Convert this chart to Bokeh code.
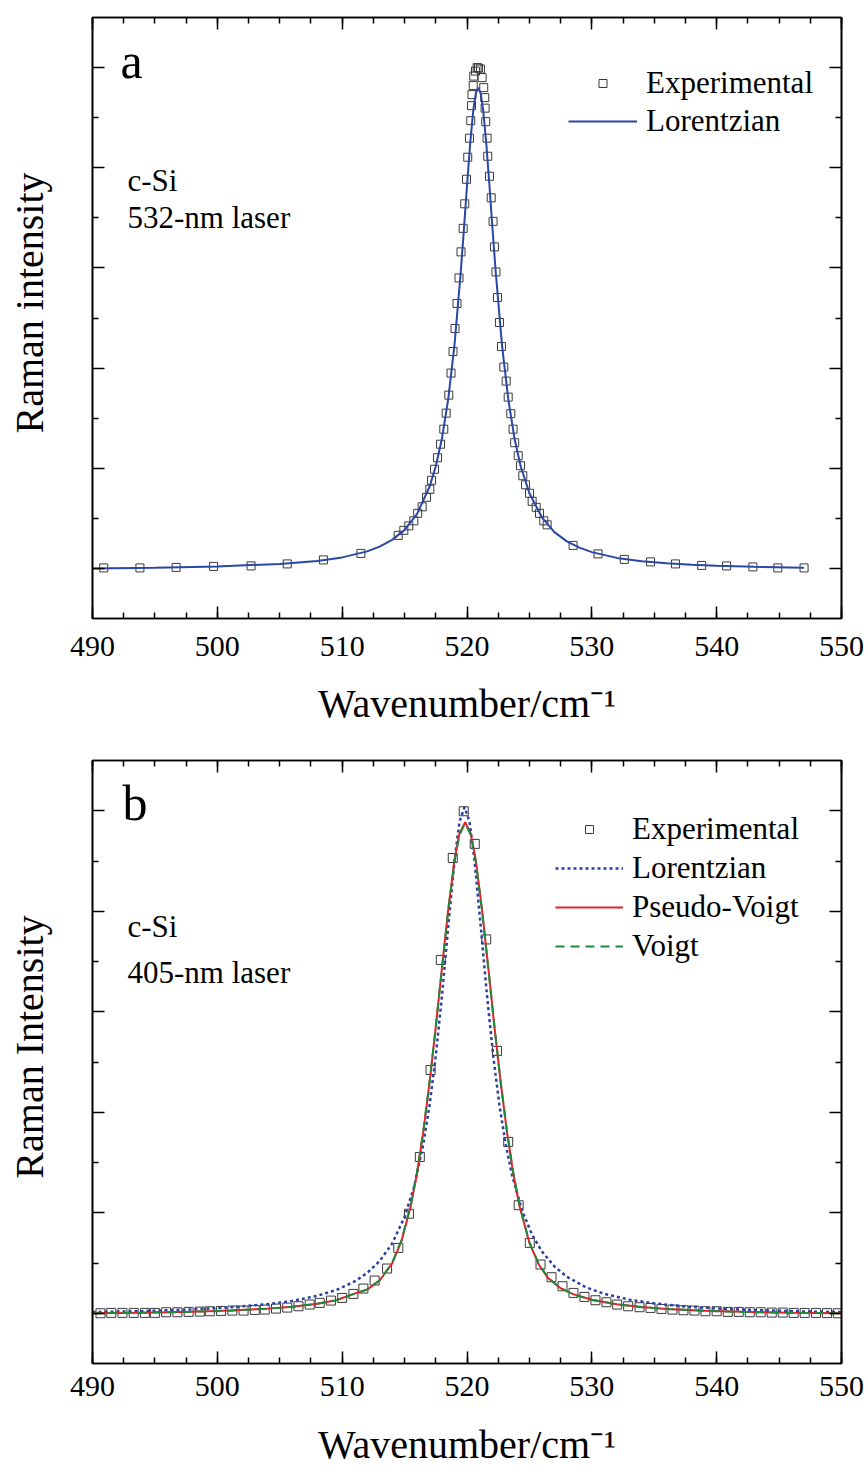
from bokeh.plotting import figure
from bokeh.models import LinearAxis, FixedTicker, Legend, LegendItem, Label, Range1d
from bokeh.layouts import column
from bokeh.embed import file_html
from bokeh.resources import INLINE

FONT = "Liberation Serif"

# ---------------- panel a (532-nm laser) ----------------
a_exp_x = [490.9, 493.8, 496.7, 499.7, 502.7, 505.6, 508.5, 511.5, 514.49, 514.94,
           515.34, 515.74, 516.05, 516.41, 516.76, 517.02, 517.16, 517.40, 517.64, 517.88,
           518.14, 518.33, 518.54, 518.72, 518.88, 519.04, 519.20, 519.36, 519.52, 519.69,
           519.82, 519.96, 520.06, 520.20, 520.30, 520.36, 520.40, 520.50, 520.54, 520.68,
           520.81, 520.92, 521.08, 521.21, 521.34, 521.42, 521.45, 521.50, 521.61, 521.66,
           521.80, 521.94, 522.09, 522.20, 522.32, 522.44, 522.60, 522.76, 522.95, 523.14,
           523.30, 523.51, 523.69, 523.82, 524.10, 524.29, 524.47, 524.69, 525.01, 525.22,
           525.54, 525.81, 526.15, 526.42, 528.5, 530.5, 532.6, 534.7, 536.7, 538.8,
           540.8, 542.9, 544.9, 547.0]
a_exp_y = [0.001, 0.001, 0.002, 0.004, 0.005, 0.009, 0.017, 0.030, 0.066, 0.076,
           0.085, 0.095, 0.110, 0.123, 0.142, 0.158, 0.176, 0.198, 0.221, 0.248,
           0.278, 0.310, 0.346, 0.390, 0.433, 0.479, 0.529, 0.580, 0.632, 0.679,
           0.728, 0.777, 0.821, 0.859, 0.894, 0.924, 0.946, 0.964, 0.983, 0.993,
           1.000, 0.999, 0.997, 0.980, 0.960, 0.940, 0.919, 0.892, 0.859, 0.823,
           0.783, 0.740, 0.693, 0.642, 0.592, 0.541, 0.491, 0.443, 0.402, 0.374,
           0.342, 0.309, 0.278, 0.251, 0.225, 0.205, 0.185, 0.167, 0.150, 0.134,
           0.122, 0.110, 0.095, 0.087, 0.046, 0.029, 0.018, 0.013, 0.009, 0.006,
           0.005, 0.003, 0.001, 0.001]

a_lor_x = [490, 495, 500, 505, 508, 510, 512, 513, 514, 515,
           516, 517, 517.5, 518, 518.5, 519, 519.5, 519.75, 520, 520.25,
           520.5, 520.7, 520.9, 521.1, 521.3, 521.55, 521.8, 522.05, 522.3, 522.8,
           523.3, 523.8, 524.3, 525, 526, 527, 528, 529, 530, 532,
           534, 536, 538, 540, 543, 547]
a_lor_y = [0.000, 0.0015, 0.004, 0.009, 0.015, 0.022, 0.034, 0.0435, 0.057, 0.077,
           0.109, 0.163, 0.204, 0.260, 0.339, 0.447, 0.592, 0.676, 0.764, 0.847,
           0.914, 0.948, 0.960, 0.948, 0.914, 0.847, 0.764, 0.676, 0.592, 0.447,
           0.339, 0.260, 0.204, 0.150, 0.102, 0.0725, 0.054, 0.0414, 0.0325, 0.021,
           0.0144, 0.0102, 0.0073, 0.0053, 0.0032, 0.0015]

# ---------------- panel b (405-nm laser) ----------------
b_exp_x = [490.64, 491.5, 492.4, 493.3, 494.2, 495.0, 495.9, 496.8, 497.7, 498.6,
           499.4, 500.3, 501.2, 502.1, 503.0, 503.8, 504.7, 505.6, 506.5, 507.4,
           508.2, 509.1, 510.0, 510.9, 511.7, 512.6, 513.6, 514.5, 515.35, 516.22,
           517.08, 517.9, 518.86, 519.74, 520.62, 521.54, 522.4, 523.3, 524.14, 525.03,
           525.89, 526.77, 527.65, 528.53, 529.41, 530.29, 531.17, 532.03, 532.91, 533.82,
           534.70, 535.58, 536.46, 537.34, 538.22, 539.10, 540.00, 540.89, 541.77, 542.65,
           543.53, 544.41, 545.29, 546.17, 547.05, 547.96, 548.84, 549.70]
b_exp_y = [0.000, 0.0007, 0.0007, 0.0007, 0.0007, 0.0007, 0.002, 0.002, 0.0027, 0.0033,
           0.004, 0.0046, 0.0053, 0.0053, 0.0066, 0.0073, 0.0093, 0.0113, 0.0139, 0.0173,
           0.0206, 0.0252, 0.0305, 0.0385, 0.0491, 0.0651, 0.089, 0.130, 0.198, 0.311,
           0.484, 0.703, 0.906, 0.999, 0.934, 0.744, 0.522, 0.341, 0.215, 0.140,
           0.097, 0.0717, 0.0538, 0.0405, 0.0325, 0.0259, 0.0219, 0.0173, 0.0139, 0.012,
           0.0106, 0.0086, 0.0073, 0.006, 0.0053, 0.004, 0.004, 0.0027, 0.0027, 0.002,
           0.002, 0.0013, 0.0013, 0.0007, 0.0007, 0.0007, 0.0003, 0.000]

b_lor_x = [490, 494, 498, 501, 504, 506, 508, 509.5, 511, 512,
           513, 514, 515, 515.75, 516.5, 517, 517.5, 518, 518.5, 519,
           519.4, 519.8, 520.2, 520.6, 521.1, 521.6, 522.1, 522.6, 523.1, 523.6,
           524.4, 525.2, 526, 527, 528, 529.5, 531, 533, 535, 537.5,
           540, 543, 546.5, 550]
b_lor_y = [0.0022, 0.0043, 0.0076, 0.0116, 0.0179, 0.0245, 0.0346, 0.046, 0.0633, 0.0801,
           0.1039, 0.1386, 0.1915, 0.2507, 0.336, 0.414, 0.512, 0.633, 0.770, 0.902,
           0.9785, 1.007, 0.9785, 0.902, 0.770, 0.633, 0.512, 0.414, 0.336, 0.2757,
           0.2052, 0.157, 0.123, 0.0933, 0.0727, 0.052, 0.0386, 0.0271, 0.0196, 0.0135,
           0.0095, 0.0063, 0.0038, 0.0022]

b_pv_x = [490, 494, 498, 501, 504, 506, 508, 509.5, 511, 512,
          513, 514, 514.75, 515.5, 516, 516.5, 517, 517.5, 518, 518.5,
          519, 519.4, 519.85, 520.3, 520.7, 521.2, 521.7, 522.2, 522.7, 523.2,
          523.7, 524.2, 525, 525.75, 526.5, 527.5, 528.5, 530, 532, 534,
          536, 539, 542, 546, 550]
b_pv_y = [0.000, 0.001, 0.003, 0.0054, 0.0092, 0.0131, 0.0191, 0.0258, 0.0391, 0.047,
          0.0652, 0.099, 0.1435, 0.214, 0.279, 0.361, 0.459, 0.570, 0.689, 0.804,
          0.902, 0.955, 0.977, 0.955, 0.902, 0.804, 0.689, 0.570, 0.459, 0.361,
          0.279, 0.214, 0.140, 0.097, 0.070, 0.0499, 0.038, 0.0269, 0.018, 0.0124,
          0.0087, 0.0051, 0.0028, 0.0009, 0.000]
b_voigt_x = b_pv_x
b_voigt_y = [0.000, 0.001, 0.003, 0.0052, 0.0089, 0.0128, 0.0188, 0.0256, 0.0390, 0.0472,
             0.0657, 0.100, 0.145, 0.216, 0.281, 0.363, 0.460, 0.570, 0.688, 0.802,
             0.899, 0.952, 0.975, 0.952, 0.899, 0.802, 0.688, 0.570, 0.460, 0.363,
             0.281, 0.216, 0.141, 0.098, 0.0705, 0.0497, 0.0376, 0.0265, 0.0176, 0.0121,
             0.0085, 0.005, 0.0027, 0.0009, 0.000]

x_major = [490, 500, 510, 520, 530, 540, 550]
x_minor = [490 + 2.5 * i for i in range(25)]
y_major = [0.0, 0.2, 0.4, 0.6, 0.8, 1.0]
y_minor = [0.1, 0.3, 0.5, 0.7, 0.9]

SQ_COLOR = "#3a3a3a"
NB = "\u00a0"


def style_axis(ax):
    ax.axis_line_width = 1.6
    ax.axis_line_color = "black"
    ax.major_tick_in = 12
    ax.major_tick_out = 0
    ax.minor_tick_in = 6
    ax.minor_tick_out = 0
    ax.major_tick_line_width = 1.5
    ax.minor_tick_line_width = 1.5
    ax.major_tick_line_color = "black"
    ax.minor_tick_line_color = "black"


def hide_labels(ax):
    ax.major_label_text_font_size = "1px"
    ax.major_label_text_color = None
    ax.major_label_standoff = 0


def make_panel(frame_h, b_top, b_bottom, ylabel, tick_standoff, xlabel_standoff):
    p = figure(frame_width=749, frame_height=frame_h,
               min_border_left=92, min_border_right=26,
               min_border_top=b_top, min_border_bottom=b_bottom,
               x_range=Range1d(490, 550), y_range=Range1d(-0.1, 1.1),
               output_backend="svg", toolbar_location=None,
               x_axis_label="Wavenumber/cm\u207b\u00b9", y_axis_label=ylabel)
    p.grid.visible = False
    p.outline_line_color = "black"
    p.outline_line_width = 1.6
    p.background_fill_color = "white"
    p.border_fill_color = "white"

    xt = FixedTicker(ticks=x_major, minor_ticks=x_minor)
    yt = FixedTicker(ticks=y_major, minor_ticks=y_minor)

    xa = p.xaxis[0]
    xa.ticker = xt
    style_axis(xa)
    xa.major_label_text_font = FONT
    xa.major_label_text_font_size = "30px"
    xa.major_label_text_color = "black"
    xa.major_label_standoff = tick_standoff
    xa.axis_label_text_font = FONT
    xa.axis_label_text_font_size = "40px"
    xa.axis_label_text_font_style = "normal"
    xa.axis_label_text_color = "black"
    xa.axis_label_standoff = xlabel_standoff

    ya = p.yaxis[0]
    ya.ticker = yt
    style_axis(ya)
    hide_labels(ya)
    ya.axis_label_text_font = FONT
    ya.axis_label_text_font_size = "40px"
    ya.axis_label_text_font_style = "normal"
    ya.axis_label_text_color = "black"
    ya.axis_label_standoff = 41

    top = LinearAxis(ticker=xt)
    right = LinearAxis(ticker=yt)
    for ax in (top, right):
        style_axis(ax)
        hide_labels(ax)
    p.add_layout(top, "above")
    p.add_layout(right, "right")
    return p


def add_text(p, txt, x, y, size):
    p.add_layout(Label(x=x, y=y, x_units="screen", y_units="screen", text=txt,
                       text_font=FONT, text_font_size=size, text_color="black",
                       text_baseline="alphabetic", text_align="left"))


def style_legend(lg, x, y, gw, spacing):
    lg.location = (x, y)
    lg.orientation = "vertical"
    lg.border_line_color = None
    lg.background_fill_alpha = 0
    lg.padding = 0
    lg.margin = 0
    lg.spacing = spacing
    lg.glyph_width = gw
    lg.glyph_height = 20
    lg.label_height = 20
    lg.label_standoff = 9
    lg.label_text_font = FONT
    lg.label_text_font_size = "31px"
    lg.label_text_color = "black"


# ---------- panel a ----------
p1 = make_panel(601, 17, 117, NB * 3 + "Raman intensity", 18, 22)
r_exp_a = p1.scatter(a_exp_x, a_exp_y, marker="square", size=8,
                     fill_color=None, line_color=SQ_COLOR, line_width=1)
r_lor_a = p1.line(a_lor_x, a_lor_y, line_color="#2a46a6", line_width=2)
lg1 = Legend(items=[LegendItem(label="Experimental", renderers=[r_exp_a]),
                    LegendItem(label="Lorentzian", renderers=[r_lor_a])])
style_legend(lg1, 476, 479, 69, 2)
p1.add_layout(lg1, "center")
add_text(p1, "a", 28, 558, "50px")
add_text(p1, "c-Si", 35, 438, "31px")
add_text(p1, "532-nm laser", 35, 401, "31px")

# ---------- panel b ----------
p2 = make_panel(603, 25, 107, NB * 3 + "Raman Intensity", 13, 23)
r_exp_b = p2.scatter(b_exp_x, b_exp_y, marker="square", size=9,
                     fill_color=None, line_color=SQ_COLOR, line_width=1)
r_lor_b = p2.line(b_lor_x, b_lor_y, line_color="#2b3fa0", line_width=2.5,
                  line_dash="3 3")
r_pv_b = p2.line(b_pv_x, b_pv_y, line_color="#e3222b", line_width=2)
r_vo_b = p2.line(b_voigt_x, b_voigt_y, line_color="#1d8a3c", line_width=2,
                 line_dash="9 6")
lg2 = Legend(items=[LegendItem(label="Experimental", renderers=[r_exp_b]),
                    LegendItem(label="Lorentzian", renderers=[r_lor_b]),
                    LegendItem(label="Pseudo-Voigt", renderers=[r_pv_b]),
                    LegendItem(label="Voigt", renderers=[r_vo_b])])
style_legend(lg2, 463, 399, 68, 3)
p2.add_layout(lg2, "center")
add_text(p2, "b", 30, 561, "50px")
add_text(p2, "c-Si", 35, 437, "31px")
add_text(p2, "405-nm laser", 35, 391, "31px")

layout = column(p1, p2, spacing=0)
open("out.html", "w").write(file_html(layout, INLINE))
